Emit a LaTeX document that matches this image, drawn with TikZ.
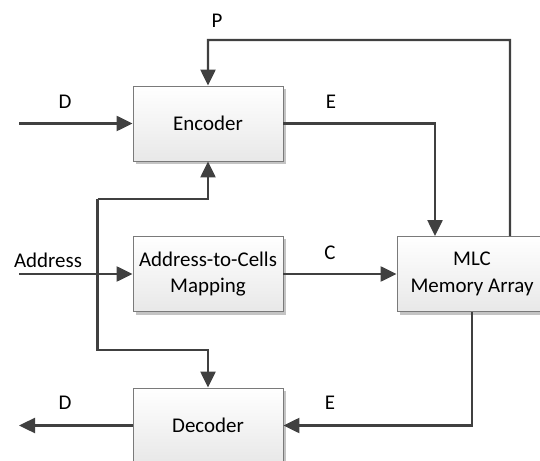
\documentclass[tikz,border=0pt]{standalone}
\usepackage{fontspec}
\setmainfont{Carlito}
\usetikzlibrary{arrows.meta,shadows}
\definecolor{lncol}{HTML}{404040}
\definecolor{bdcol}{HTML}{7A7A7A}
\definecolor{shcol}{HTML}{C4C4C4}
\tikzset{
  blockbox/.style={draw=bdcol, line width=0.9bp, minimum width=150bp, minimum height=75bp,
    inner sep=0pt, align=center, top color=white, bottom color=black!9,
    drop shadow={shadow xshift=3bp, shadow yshift=-3bp, fill=shcol, opacity=1},
    font=\fontsize{21}{27}\selectfont},
  lbl/.style={inner sep=0pt, font=\fontsize{21}{27}\selectfont},
  arr/.style={draw=lncol, line width=2.4bp, -{Triangle[length=16bp,width=15bp]}}
}
\begin{document}
\begin{tikzpicture}[x=1bp,y=-1bp]
\useasboundingbox (0,0) rectangle (540,461);
\clip (0,0) rectangle (540,461);
\node[blockbox] (enc) at (208,123.5) {Encoder};
\node[blockbox] (addr) at (208,274) {Address-to-Cells\\Mapping};
\node[blockbox] (mlc) at (472,274) {MLC\\Memory Array};
\node[blockbox] (dec) at (208,425.5) {Decoder};
\coordinate (din) at (19,123.5);
\coordinate (ain) at (19,274);
\coordinate (dout) at (19,425.5);
\coordinate (ptop) at (510,40);
\coordinate (bus1) at (97.5,199);
\coordinate (bus2) at (97.5,350);
\draw[arr] (din) -- (enc.west);
\draw[arr] ([xshift=38bp]mlc.north) -- (ptop) -| (enc.north);
\draw[arr] (enc.east) -| ([xshift=-37bp]mlc.north);
\draw[arr] (ain) -- (addr.west);
\draw[arr] (addr.east) -- (mlc.west);
\draw[arr] (bus1) -| (enc.south);
\draw[arr] (bus1) -- (bus2) -| (dec.north);
\draw[arr] (mlc.south) |- (dec.east);
\draw[arr] (dec.west) -- (dout);
\node[lbl] (lp) at (217,21) {P};
\node[lbl] (ld1) at (65,102) {D};
\node[lbl] (le1) at (331,102) {E};
\node[lbl] (laddr) at (48,260) {Address};
\node[lbl] (lc) at (330,253) {C};
\node[lbl] (ld2) at (65,403) {D};
\node[lbl] (le2) at (330,403) {E};
\end{tikzpicture}
\end{document}
